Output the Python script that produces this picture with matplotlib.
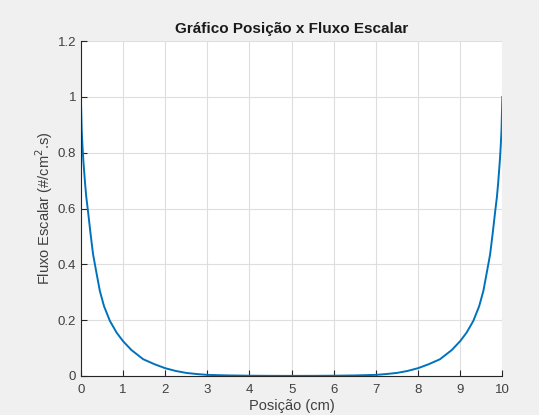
import matplotlib.pyplot as plt
import numpy as np

# posicao (cm) e fluxo escalar
posicao = [0.0, 0.02, 0.04, 0.06, 0.1, 0.13, 0.17, 0.23, 0.29, 0.37, 0.45, 0.55,
           0.69, 0.85, 1.0, 1.2, 1.48, 1.75, 2.0, 2.25, 2.5, 2.75, 3.0, 3.5,
           4.0, 4.5, 5.0, 5.5, 6.0, 6.5, 7.0, 7.25, 7.5, 7.75, 8.0, 8.25,
           8.52, 8.8, 9.0, 9.15, 9.31, 9.45, 9.55, 9.63, 9.71, 9.77, 9.83,
           9.87, 9.9, 9.94, 9.96, 9.98, 10.0]
fluxo = [1.0, 0.88, 0.82, 0.77, 0.69, 0.64, 0.59, 0.51, 0.436, 0.37, 0.305, 0.25,
         0.197, 0.155, 0.125, 0.093, 0.06, 0.042, 0.028, 0.018, 0.011, 0.007, 0.004, 0.002,
         0.001, 0.0005, 0.0004, 0.0005, 0.001, 0.002, 0.004, 0.007, 0.011, 0.018, 0.028, 0.042,
         0.06, 0.093, 0.125, 0.155, 0.197, 0.25, 0.305, 0.37, 0.436, 0.51,
         0.59, 0.64, 0.69, 0.77, 0.82, 0.88, 1.0]

plt.rcParams['font.family'] = ['Liberation Sans', 'DejaVu Sans']

fig = plt.figure(figsize=(5.39, 4.15), dpi=100, facecolor='#f0f0f0')
ax = fig.add_axes([0.150, 0.094, 0.782, 0.807])

ax.plot(posicao, fluxo, color='#0072BD', linewidth=1.4)

ax.set_xlim(0, 10)
ax.set_ylim(0, 1.2)
ax.set_xticks(np.arange(0, 11, 1))
ax.set_yticks([0, 0.2, 0.4, 0.6, 0.8, 1, 1.2])
ax.set_yticklabels(['0', '0.2', '0.4', '0.6', '0.8', '1', '1.2'])
ax.grid(True, color='#dedede', linewidth=0.8)
ax.set_axisbelow(True)
ax.spines['top'].set_visible(False)
ax.spines['right'].set_visible(False)
ax.spines['left'].set_color('#262626')
ax.spines['bottom'].set_color('#262626')
ax.tick_params(direction='in', length=4, labelsize=9.5, colors='#262626', labelcolor='#404040')
ax.tick_params(axis='x', pad=6)

ax.set_title('Gráfico Posição x Fluxo Escalar', fontsize=11, fontweight='bold', color='#1a1a1a')
ax.set_xlabel('Posição (cm)', fontsize=10.5, color='#404040', labelpad=2)
ax.set_ylabel('Fluxo Escalar (#/cm$^2$.s)', fontsize=10.5, color='#404040', labelpad=2)

fig.savefig('out.png', dpi=100, facecolor=fig.get_facecolor())
